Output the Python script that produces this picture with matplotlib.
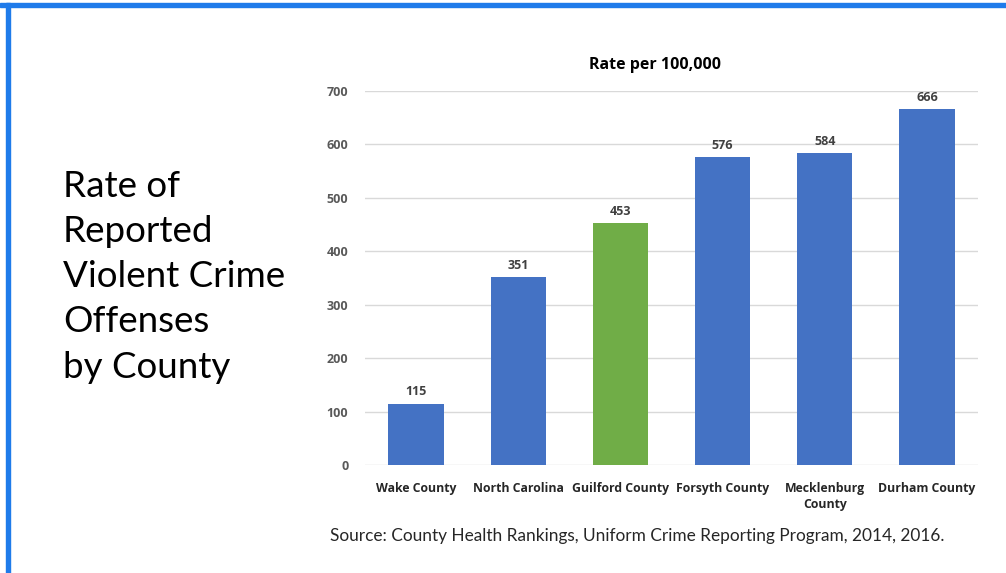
import numpy as np
import matplotlib.pyplot as plt
from matplotlib.patches import Rectangle

# data
counties = ['Wake County', 'North Carolina', 'Guilford County', 'Forsyth County',
            'Mecklenburg\nCounty', 'Durham County']
rates = [115, 351, 453, 576, 584, 666]
bar_colors = ['#4472C4', '#4472C4', '#70AD47', '#4472C4', '#4472C4', '#4472C4']
yticks = [0, 100, 200, 300, 400, 500, 600, 700]

plt.rcParams['font.family'] = ['Open Sans', 'DejaVu Sans']

W, H = 1006, 573
fig = plt.figure(figsize=(W / 100, H / 100), dpi=100)

# blue slide frame (top and left)
fig.patches.append(Rectangle((0, 1 - 7 / H), 1, 4 / H, transform=fig.transFigure,
                             color='#1F7BEA', zorder=0))
fig.patches.append(Rectangle((6 / W, 0), 4 / W, 1 - 3 / H, transform=fig.transFigure,
                             color='#1F7BEA', zorder=0))

# slide title
fig.text(63 / W, 1 - 170 / H, 'Rate of\nReported\nViolent Crime\nOffenses\nby County',
         ha='left', va='top', fontsize=26.5, color='black', linespacing=1.45,
         family=['Lato', 'DejaVu Sans'])

ax = fig.add_axes([365 / W, 1 - 465 / H, (978 - 365) / W, (465 - 91) / H])
x = np.arange(len(counties))
bars = ax.bar(x, rates, width=0.54, color=bar_colors, zorder=3)
for xi, v in zip(x, rates):
    ax.text(xi, v + 10, str(v), ha='center', va='bottom', fontsize=9,
            fontweight='bold', color='#404040')

ax.set_xlim(-0.5, len(counties) - 0.5)
ax.set_ylim(0, 700)
ax.set_yticks(yticks)
ax.set_xticks(x)
ax.set_xticklabels(counties, fontsize=8.8, fontweight='bold', color='#262626',
                   linespacing=1.3)
ax.tick_params(axis='y', labelsize=9, labelcolor='#595959', length=0, pad=12)
ax.tick_params(axis='x', length=0, pad=12)
for lbl in ax.get_yticklabels():
    lbl.set_fontweight('bold')
ax.grid(axis='y', color='#D9D9D9', linewidth=1, zorder=0)
for s in ax.spines.values():
    s.set_visible(False)

fig.text(655 / W, 1 - 65 / H, 'Rate per 100,000', ha='center', va='center',
         fontsize=11.5, fontweight='bold', color='black')

fig.text(330 / W, 1 - 536 / H,
         'Source: County Health Rankings, Uniform Crime Reporting Program, 2014, 2016.',
         ha='left', va='center', fontsize=12.4, color='#262626',
         family=['Lato', 'DejaVu Sans'])

fig.savefig('out.png', dpi=100)
